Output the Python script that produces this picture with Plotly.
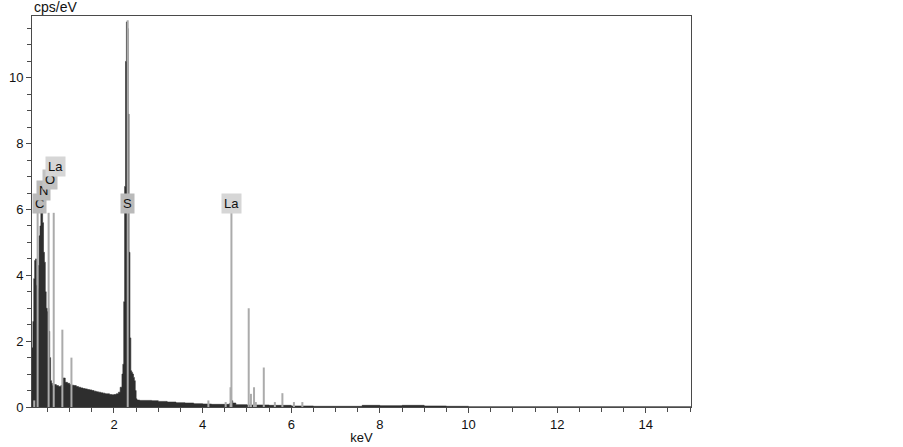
import plotly.graph_objects as go

# ── EDS spectrum (step histogram), energies in keV, intensity in cps/eV ──────
energy_kev = [
    0.15, 0.17, 0.19, 0.21, 0.23, 0.25, 0.27, 0.29, 0.31, 0.33,
    0.35, 0.37, 0.39, 0.41, 0.43, 0.45, 0.47, 0.49, 0.51, 0.53,
    0.55, 0.57, 0.59, 0.61, 0.65, 0.70, 0.75, 0.80, 0.85, 0.90,
    0.95, 1.00, 1.05, 1.10, 1.15, 1.20, 1.25, 1.30, 1.35, 1.40,
    1.45, 1.50, 1.55, 1.60, 1.65, 1.70, 1.75, 1.80, 1.85, 1.90,
    1.95, 2.00, 2.05, 2.10, 2.14, 2.18, 2.20, 2.22, 2.24, 2.26,
    2.28, 2.30, 2.32, 2.34, 2.36, 2.38, 2.40, 2.42, 2.44, 2.46,
    2.48, 2.50, 2.52, 2.58, 2.70, 2.85, 3.00, 3.20, 3.40, 3.60,
    3.80, 4.00, 4.20, 4.40, 4.60, 4.64, 4.68, 4.75, 5.00, 5.50,
    6.00, 6.50, 7.00, 7.60, 8.00, 8.50, 9.00, 9.50, 10.0, 12.0, 15.02,
]
counts = [
    1.80, 2.60, 3.90, 4.45, 4.50, 3.70, 3.60, 4.30, 5.20, 5.50,
    5.90, 5.90, 5.60, 4.70, 4.40, 3.50, 3.00, 2.90, 3.00, 2.30,
    1.50, 0.80, 0.72, 0.65, 0.68, 0.65, 0.62, 0.65, 0.88, 0.75,
    0.72, 0.68, 0.66, 0.65, 0.62, 0.60, 0.58, 0.56, 0.55, 0.53,
    0.52, 0.50, 0.48, 0.46, 0.45, 0.43, 0.42, 0.40, 0.40, 0.38,
    0.37, 0.38, 0.40, 0.45, 0.60, 1.00, 1.30, 3.20, 6.70, 10.5,
    11.7, 11.5, 8.90, 4.70, 2.10, 1.10, 1.05, 1.00, 0.90, 0.80,
    0.50, 0.25, 0.21, 0.20, 0.20, 0.19, 0.17, 0.15, 0.13, 0.12,
    0.10, 0.09, 0.08, 0.08, 0.10, 0.19, 0.12, 0.07, 0.06, 0.05,
    0.03, 0.02, 0.02, 0.05, 0.04, 0.05, 0.03, 0.02, 0.01, 0.01, 0.01,
]

# ── Element marker lines ─────────────────────────────────────────────────────
marker_kev = [0.20, 0.277, 0.525, 0.64, 0.835, 1.04, 2.31, 4.13, 4.52, 4.63,
              4.65, 5.04, 5.09, 5.16, 5.20, 5.38, 5.63, 5.80, 6.06, 6.25]
marker_height = [0.2, 5.9, 5.9, 5.9, 2.35, 1.5, 11.75, 0.2, 0.15, 0.6,
                 5.9, 3.0, 0.4, 0.6, 0.15, 1.2, 0.15, 0.42, 0.15, 0.15]

# ── Peak labels ──────────────────────────────────────────────────────────────
label_text = ['C', 'N', 'O', 'La', 'S', 'La']
label_kev = [0.33, 0.42, 0.56, 0.68, 2.305, 4.66]
label_y = [6.17, 6.57, 6.92, 7.32, 6.17, 6.17]
label_bg = ['#bababa', '#bababa', '#c2c2c2', '#d6d6d6', '#bababa', '#d6d6d6']

DARK = '#2e2e2e'
GRAY = '#ababab'
AXIS = '#4a4a4a'
FONT = 'Arial, Liberation Sans, sans-serif'

fig = go.Figure()

fig.add_trace(go.Scatter(
    x=energy_kev, y=counts,
    mode='lines', line_shape='hv',
    line=dict(color=DARK, width=0.6),
    fill='tozeroy', fillcolor=DARK,
    showlegend=False, hoverinfo='skip',
))

# vertical marker lines as one segmented trace
mx, my = [], []
for e, h in zip(marker_kev, marker_height):
    mx += [e, e, None]
    my += [0, h, None]
fig.add_trace(go.Scatter(
    x=mx, y=my, mode='lines',
    line=dict(color=GRAY, width=2),
    showlegend=False, hoverinfo='skip',
))

for t, xk, yk, bg in zip(label_text, label_kev, label_y, label_bg):
    fig.add_annotation(
        x=xk, y=yk, xref='x', yref='y', text=t, showarrow=False,
        font=dict(family=FONT, size=13, color='#111111'),
        bgcolor=bg, borderpad=2,
    )

fig.add_annotation(
    x=0, y=1, xref='paper', yref='paper', text='cps/eV', showarrow=False,
    xanchor='left', yanchor='bottom', xshift=0, yshift=-1,
    font=dict(family=FONT, size=14, color='#111111'),
)

fig.update_layout(
    width=903, height=447,
    margin=dict(l=32, r=212, t=16, b=40),
    paper_bgcolor='white', plot_bgcolor='white',
    font=dict(family=FONT, size=13, color='#111111'),
    xaxis=dict(
        range=[0.15, 15.02], showgrid=False, zeroline=False, automargin=False,
        tickmode='linear', tick0=0, dtick=2,
        ticks='outside', ticklen=5, tickcolor=AXIS, tickwidth=1,
        minor=dict(dtick=0.5, tick0=0, ticks='outside', ticklen=4, tickcolor=AXIS),
        showline=True, linecolor=AXIS, linewidth=1, mirror=True,
        title=dict(text='keV', standoff=2, font=dict(size=13)),
        tickfont=dict(size=13),
    ),
    yaxis=dict(
        range=[0, 11.88], showgrid=False, zeroline=False, automargin=False,
        tickmode='linear', tick0=0, dtick=2,
        ticks='outside', ticklen=5, tickcolor=AXIS, tickwidth=1,
        minor=dict(dtick=0.5, tick0=0, ticks='outside', ticklen=4, tickcolor=AXIS),
        showline=True, linecolor=AXIS, linewidth=1, mirror=True,
        tickfont=dict(size=13),
    ),
)

# the page body has a default 8px margin; drop it so the figure sits at (0, 0)
fig.write_html("out.html", config={'displayModeBar': False},
               post_script="document.body.style.margin = '0';")
